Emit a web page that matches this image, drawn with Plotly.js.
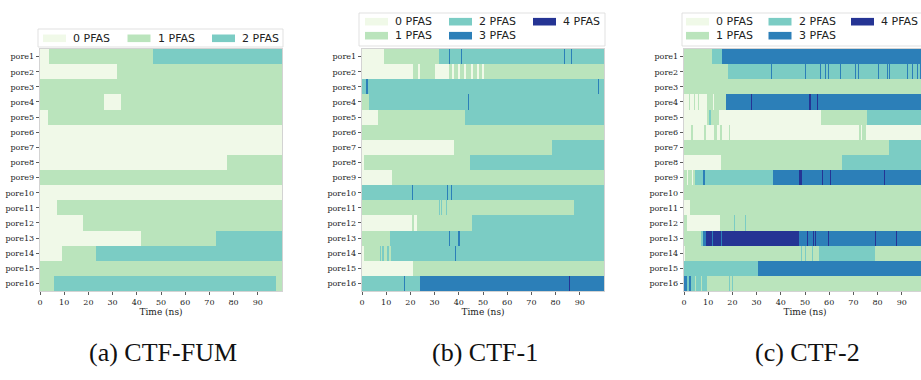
<!DOCTYPE html>
<html>
<head>
<meta charset="utf-8">
<script src="https://cdn.plot.ly/plotly-3.0.1.min.js"></script>
<style>
html,body{margin:0;padding:0;overflow:hidden;background:#fff;}
#chart{width:930px;height:380px;}
</style>
</head>
<body>
<div id="chart"></div>
<script>
// ---------------- DATA ----------------
const tMax = 100; // ns
const pores = ['pore1','pore2','pore3','pore4','pore5','pore6','pore7','pore8',
               'pore9','pore10','pore11','pore12','pore13','pore14','pore15','pore16'];
const countLabels = ['0 PFAS','1 PFAS','2 PFAS','3 PFAS','4 PFAS'];
const timeTicks = [0,10,20,30,40,50,60,70,80,90];
const panelNames = ['(a) CTF-FUM','(b) CTF-1','(c) CTF-2'];

// each row: flat list of (start time, PFAS count) pairs; a run lasts until the next start (or tMax)
const ctfFum = [
  [0,0, 3.6,1, 46.8,2],
  [0,0, 32,1],
  [0,1],
  [0,1, 26.4,0, 33.6,1],
  [0,0, 3.2,1],
  [0,0],
  [0,0],
  [0,0, 77.4,1],
  [0,1],
  [0,0],
  [0,0, 6.9,1],
  [0,0, 17.9,1],
  [0,0, 41.6,1, 72.6,2],
  [0,0, 9.2,1, 23.3,2],
  [0,1],
  [0,1, 5.9,2, 97.5,1]
];

const ctf1 = [
  [0,0, 9.1,1, 31.8,2, 36,3, 36.3,2, 41,3, 41.4,2, 83.4,3, 83.7,2, 86.4,3, 86.7,2],
  [0,0, 21.1,1, 23,0, 24.1,1, 30,0, 35.8,1, 37,0, 38,1, 39.5,0, 40.5,1, 42,0, 43,1, 45,0, 46,1, 47.5,0, 48.5,1, 49.5,0, 50.3,1],
  [0,2, 1.6,3, 2.3,2, 97.4,3, 97.8,2],
  [0,1, 3,2, 43.8,3, 44.1,2],
  [0,0, 6.6,1, 42.4,2],
  [0,1],
  [0,0, 38.2,1, 78.7,2],
  [0,0, 1,1, 44.8,2],
  [0,0, 12.4,1],
  [0,2, 20.8,3, 21.1,2, 35.3,3, 35.6,2, 36.8,3, 37.1,2, 37.5,3, 37.8,2],
  [0,1, 31.9,2, 32.3,1, 32.7,2, 33,1, 34.6,2, 35,1, 87.5,2],
  [0,0, 20.7,1, 21.5,0, 22.6,1, 45.5,2],
  [0,1, 11.7,2, 36,3, 36.3,2, 39.6,3, 40.3,2, 41.2,3, 41.5,2, 43.6,3, 43.9,2],
  [0,0, 1,1, 7.4,2, 7.9,1, 8.3,2, 9,1, 10.5,2, 11,1, 11.8,2, 37,3, 37.3,2, 38.6,3, 39,2],
  [0,0, 21,1],
  [0,2, 17.3,3, 17.7,2, 24.1,3, 32.6,4, 32.8,3, 85.6,4, 85.8,3]
];

const ctf2 = [
  [0,1, 11.7,2, 15.8,3],
  [0,1, 18.2,2, 36,3, 36.2,2, 50.2,3, 50.4,2, 56.4,3, 56.6,2, 58.4,3, 58.6,2, 59.6,3, 59.8,2, 60.6,3, 60.8,2,
   61.8,3, 62,2, 64.6,3, 64.8,2, 68.8,3, 69,2, 70.8,3, 71,2, 72,3, 72.2,2, 73,3, 73.2,2, 80.2,3, 80.4,2,
   81.4,3, 81.6,2, 82.6,3, 82.8,2, 84,3, 84.2,2, 84.8,3, 85,2, 92.2,3, 92.4,2, 94.4,3, 94.6,2, 96.4,3, 96.6,2, 97.6,3, 97.8,2],
  [0,1],
  [0,0, 2.2,1, 2.6,0, 4.2,1, 4.6,0, 5.6,1, 6,0, 9.6,1, 12,0, 12.6,1, 17.2,3, 27.6,4, 28,3, 51.6,4, 52.6,3, 55,4, 55.3,3],
  [0,0, 9.5,1, 10.2,2, 11,1, 14.5,0, 56.5,1, 75.5,2],
  [0,0, 2.8,1, 3.8,0, 8.3,1, 9,0, 12.4,1, 13.5,0, 15,1, 15.5,0, 18.5,1, 18.9,0, 72.5,1, 73.2,0, 73.6,1, 75,0],
  [0,1, 84.6,2],
  [0,0, 15.3,1, 65.2,2],
  [0,1, 1.2,0, 1.6,1, 3.4,0, 3.8,1, 4.4,2, 7.8,3, 8.8,2, 11,3, 11.3,2, 36.8,3, 47.4,4, 48.6,3, 56.9,4, 57.4,3,
   59.3,4, 59.7,3, 60.2,4, 60.7,3, 82.5,4, 83,3],
  [0,1],
  [0,0, 2.4,1],
  [0,1, 1.2,0, 14.7,1, 20.8,2, 21,1, 25.3,2, 25.5,1],
  [0,1, 6.9,2, 8,3, 8.9,4, 11.5,3, 11.8,4, 15.2,3, 15.6,4, 47.5,3, 51,4, 51.4,3, 53.3,4, 53.7,3, 54.3,4, 54.7,3,
   59.7,4, 60,3, 78.8,4, 79.4,3, 87.7,4, 87.9,3],
  [0,0, 0.6,1, 48.5,2, 48.8,1, 50,2, 50.3,1, 51.5,2, 51.8,1, 53,2, 53.3,1, 55.8,2, 78.8,1],
  [0,2, 30.6,3],
  [0,3, 1.4,2, 2.2,3, 2.8,2, 4.5,1, 5,2, 7,1, 7.4,2, 9.6,1, 18.7,2, 19.1,1, 19.8,2, 20.2,1, 47.4,2, 47.7,1]
];

// ---------------- STYLE / LAYOUT ----------------
const colors = ['#f0f9e8','#bae4bc','#7bccc4','#2c7fb8','#253494'];
const W = 930, H = 380;
const plotTop = 49, plotBottom = 291;
const panels = [
  {rows: ctfFum, nCats: 3, x0: 40,  x1: 282, lg: {l: 38,  r: 283, t: 29, b: 47, pad: 5, step: 84.5, rowY: [38.3]}},
  {rows: ctf1,   nCats: 5, x0: 362, x1: 604, lg: {l: 359, r: 605, t: 13, b: 46, pad: 6, step: 84, rowY: [21.7, 35.7]}},
  {rows: ctf2,   nCats: 5, x0: 684, x1: 926, lg: {l: 682, r: 928, t: 13, b: 46, pad: 4, step: 82.5, rowY: [21.7, 35.7]}}
];

const tickFont = {family: 'DejaVu Serif', size: 8, color: '#222'};
const traces = [];
const layout = {
  width: W, height: H,
  margin: {l: 0, r: 0, t: 0, b: 0},
  paper_bgcolor: '#fff', plot_bgcolor: '#fff',
  barmode: 'overlay', bargap: 0, bargroupgap: 0,
  showlegend: false,
  shapes: [], annotations: []
};

panels.forEach((p, pi) => {
  const sfx = pi === 0 ? '' : String(pi + 1);
  for (let c = 0; c < p.nCats; c++) {
    const y = [], base = [], len = [];
    p.rows.forEach((row, r) => {
      for (let k = 0; k < row.length; k += 2) {
        if (row[k + 1] !== c) continue;
        const s = row[k];
        const e = (k + 2 < row.length) ? row[k + 2] : tMax;
        y.push(pores[r]); base.push(s); len.push(e - s);
      }
    });
    if (!y.length) continue;
    traces.push({
      type: 'bar', orientation: 'h', y: y, x: len, base: base, width: 1,
      name: countLabels[c],
      marker: {color: colors[c], line: {width: 0}},
      xaxis: 'x' + sfx, yaxis: 'y' + sfx,
      hoverinfo: 'skip', showlegend: false
    });
  }
  layout['xaxis' + sfx] = {
    domain: [p.x0 / W, p.x1 / W], anchor: 'y' + sfx,
    range: [0, tMax], tickmode: 'array', tickvals: timeTicks,
    ticks: 'outside', ticklen: 3.5, tickwidth: 0.8, tickcolor: '#333',
    tickfont: tickFont,
    title: {text: 'Time (ns)', font: {family: 'DejaVu Serif', size: 9, color: '#222'}, standoff: 1},
    showline: true, linecolor: '#c8c8c8', linewidth: 0.8, mirror: true,
    showgrid: false, zeroline: false, fixedrange: true
  };
  layout['yaxis' + sfx] = {
    domain: [(H - plotBottom) / H, (H - plotTop) / H], anchor: 'x' + sfx,
    type: 'category', categoryorder: 'array', categoryarray: pores,
    range: [pores.length - 0.5, -0.5],
    ticks: 'outside', ticklen: 3.5, tickwidth: 0.8, tickcolor: '#333',
    tickfont: tickFont,
    showline: true, linecolor: '#c8c8c8', linewidth: 0.8, mirror: true,
    showgrid: false, zeroline: false, fixedrange: true
  };

  // legend box (matplotlib-like, column-major)
  const lg = p.lg;
  const nRows = lg.rowY.length;
  layout.shapes.push({
    type: 'rect', xref: 'paper', yref: 'paper', layer: 'above',
    x0: lg.l / W, x1: lg.r / W, y0: 1 - lg.b / H, y1: 1 - lg.t / H,
    line: {color: '#d9d9d9', width: 0.8}, fillcolor: '#ffffff'
  });
  for (let c = 0; c < p.nCats; c++) {
    const col = Math.floor(c / nRows), row = c % nRows;
    const yc = lg.rowY[row];
    const px = lg.l + lg.pad + col * lg.step;
    layout.shapes.push({
      type: 'rect', xref: 'paper', yref: 'paper', layer: 'above',
      x0: px / W, x1: (px + 23) / W, y0: 1 - (yc + 3.8) / H, y1: 1 - (yc - 3.8) / H,
      line: {width: 0}, fillcolor: colors[c]
    });
    layout.annotations.push({
      xref: 'paper', yref: 'paper', x: (px + 28) / W, y: 1 - yc / H,
      xanchor: 'left', yanchor: 'middle', showarrow: false,
      text: countLabels[c],
      font: {family: 'DejaVu Sans', size: 11, color: '#222'}
    });
  }
  // caption
  layout.annotations.push({
    xref: 'paper', yref: 'paper', x: ((p.x0 + p.x1) / 2 + 2) / W, y: 1 - 352 / H,
    xanchor: 'center', yanchor: 'middle', showarrow: false,
    text: panelNames[pi],
    font: {family: 'Liberation Serif', size: 26, color: '#111'}
  });
});

Plotly.newPlot('chart', traces, layout, {staticPlot: true, displayModeBar: false});
</script>
</body>
</html>
